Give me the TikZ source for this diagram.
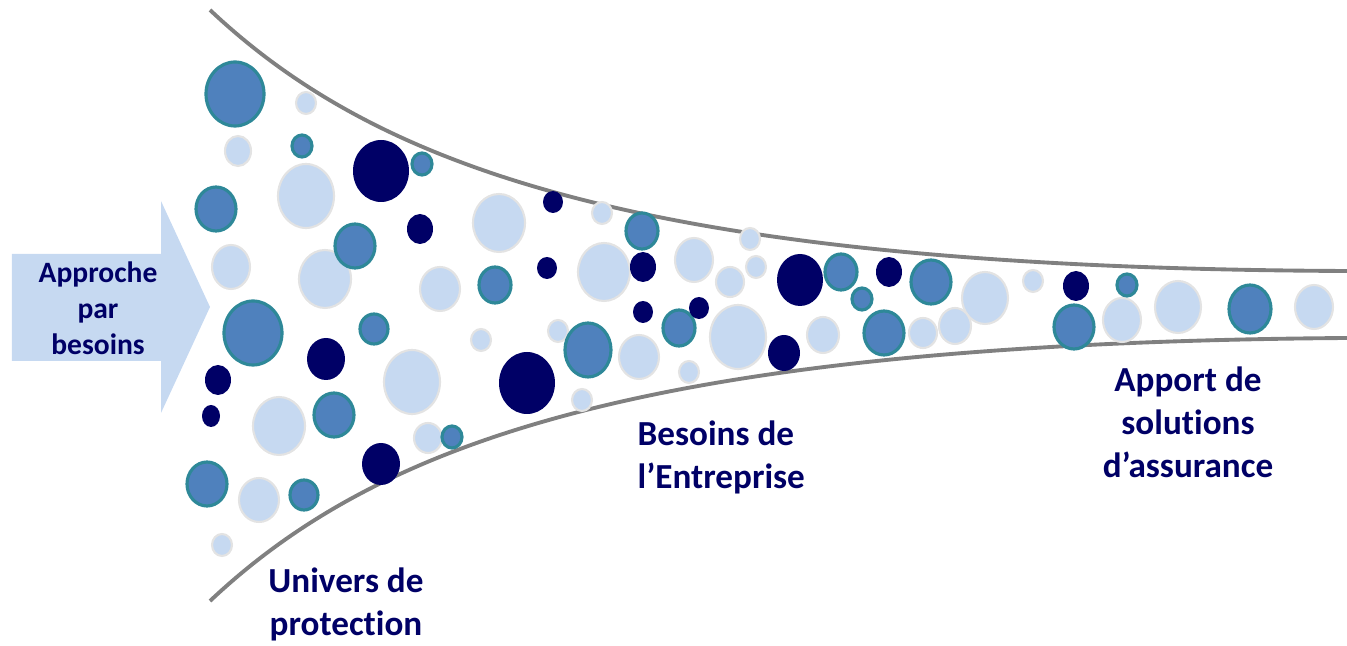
\documentclass[tikz,border=0pt]{standalone}
\usepackage{fontspec}
\setmainfont{Carlito}[Ligatures=NoCommon]
\definecolor{navy}{RGB}{0,0,102}
\definecolor{pale}{RGB}{198,217,241}
\definecolor{mid}{RGB}{79,129,189}
\definecolor{rim}{RGB}{46,136,152}
\tikzset{
  lb/.style={fill=pale, draw=black!11, line width=0.6pt},
  mb/.style={fill=mid, draw=rim, line width=0.9pt},
  db/.style={fill=navy},
  funnel/.style={draw=black!50, line width=1.1pt},
  lbl/.style={text=navy, font=\fontsize{10}{12.2}\selectfont\bfseries}
}
\begin{document}
\begin{tikzpicture}[x=0.01cm, y=-0.01cm]
\useasboundingbox (0,0) rectangle (1347,646);
% entry arrow
\fill[pale] (12,254) -- (161,254) -- (161,201) -- (210,307) -- (161,413) -- (161,361) -- (12,361) -- cycle;
\node[text=navy, font=\fontsize{8.4}{10.2}\selectfont\bfseries, align=center] (approche) at (98,308) {Approche\\par\\besoins};
% funnel
\draw[funnel] (210,10) .. controls (380,170) and (650,268) .. (1347,271);
\draw[funnel] (210,601) .. controls (380,441) and (650,343) .. (1347,338);
% light bubbles
\draw[lb] (306,103) ellipse (10 and 11);
\draw[lb] (238,151) ellipse (13 and 15);
\draw[lb] (306,196) ellipse (28 and 32);
\draw[lb] (231,267) ellipse (19 and 22);
\draw[lb] (325,279) ellipse (26 and 29);
\draw[lb] (440,289) ellipse (20 and 22);
\draw[lb] (412,382) ellipse (28 and 32);
\draw[lb] (279,426) ellipse (26 and 29);
\draw[lb] (428,438) ellipse (14 and 15);
\draw[lb] (259,500) ellipse (20 and 22);
\draw[lb] (222,545) ellipse (10 and 11);
\draw[lb] (499,223) ellipse (26 and 29);
\draw[lb] (602,213) ellipse (10 and 11);
\draw[lb] (604,272) ellipse (26 and 29);
\draw[lb] (694,260) ellipse (19 and 22);
\draw[lb] (750,239) ellipse (10 and 11);
\draw[lb] (730,282) ellipse (14 and 15);
\draw[lb] (756,267) ellipse (10 and 11);
\draw[lb] (481,340) ellipse (10 and 11);
\draw[lb] (558,331) ellipse (10 and 11);
\draw[lb] (582,400) ellipse (10 and 11);
\draw[lb] (639,357) ellipse (20 and 22);
\draw[lb] (738,337) ellipse (28 and 32);
\draw[lb] (689,372) ellipse (10 and 11);
\draw[lb] (823,335) ellipse (16 and 18);
\draw[lb] (985,298) ellipse (23 and 26);
\draw[lb] (955,326) ellipse (16 and 18);
\draw[lb] (923,333) ellipse (14 and 15);
\draw[lb] (1033,281) ellipse (10 and 11);
\draw[lb] (1122,320) ellipse (19 and 22);
\draw[lb] (1178,307) ellipse (23 and 26);
\draw[lb] (1314,307) ellipse (19 and 22);
% medium bubbles
\draw[mb] (235,94) ellipse (29 and 32);
\draw[mb] (302,146) ellipse (10 and 11);
\draw[mb] (422,164) ellipse (10 and 11);
\draw[mb] (216,209) ellipse (20 and 22);
\draw[mb] (355,246) ellipse (20 and 22);
\draw[mb] (253,333) ellipse (29 and 32);
\draw[mb] (374,329) ellipse (14 and 15);
\draw[mb] (334,415) ellipse (20 and 22);
\draw[mb] (452,437) ellipse (10 and 11);
\draw[mb] (207,484) ellipse (20 and 22);
\draw[mb] (304,495) ellipse (14 and 15);
\draw[mb] (642,231) ellipse (16 and 18);
\draw[mb] (495,285) ellipse (16 and 18);
\draw[mb] (588,350) ellipse (23 and 27);
\draw[mb] (679,328) ellipse (16 and 18);
\draw[mb] (841,272) ellipse (16 and 18);
\draw[mb] (862,299) ellipse (10 and 11);
\draw[mb] (884,333) ellipse (20 and 22);
\draw[mb] (931,282) ellipse (20 and 22);
\draw[mb] (1127,285) ellipse (10 and 11);
\draw[mb] (1074,327) ellipse (20 and 22);
\draw[mb] (1250,309) ellipse (21 and 24);
% dark bubbles
\fill[db] (381,171) ellipse (28 and 31);
\fill[db] (420,229) ellipse (13 and 15);
\fill[db] (218,380) ellipse (13 and 15);
\fill[db] (326,359) ellipse (19 and 21);
\fill[db] (211,416) ellipse (9 and 11);
\fill[db] (381,464) ellipse (19 and 21);
\fill[db] (553,202) ellipse (10 and 11);
\fill[db] (547,268) ellipse (10 and 11);
\fill[db] (643,267) ellipse (13 and 15);
\fill[db] (527,383) ellipse (28 and 31);
\fill[db] (643,312) ellipse (10 and 11);
\fill[db] (699,308) ellipse (10 and 11);
\fill[db] (784,353) ellipse (16 and 18);
\fill[db] (800,280) ellipse (23 and 26);
\fill[db] (889,272) ellipse (13 and 15);
\fill[db] (1076,286) ellipse (13 and 15);
% labels
\node[lbl, align=center] (univers) at (346,604) {Univers de\\protection};
\node[lbl, align=left, anchor=west, inner sep=0pt] (besoins) at (637,457) {Besoins de\\l’Entreprise};
\node[lbl, align=center] (apport) at (1188,422) {Apport de\\solutions\\d’assurance};
\end{tikzpicture}
\end{document}
